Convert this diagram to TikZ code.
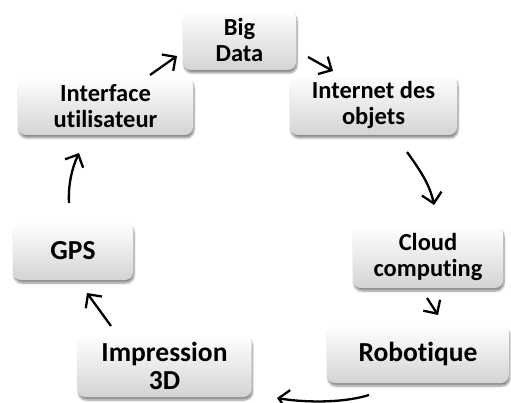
\documentclass[tikz,border=0pt]{standalone}
\usepackage{fontspec}
\setmainfont{Carlito}[RawFeature=-liga]
\usetikzlibrary{arrows.meta,shadows.blur}

\tikzset{
  box/.style={
    rounded corners=8pt, top color=white, bottom color=black!17,
    draw=none, align=center, inner sep=0pt,
    font=\bfseries\fontsize{24.5}{26}\selectfont,
    blur shadow={shadow xshift=1pt, shadow yshift=-3pt,
                 shadow blur steps=8, shadow opacity=45}
  },
  bigtext/.style={font=\bfseries\fontsize{27.5}{28}\selectfont},
  flow/.style={line width=2.3pt, -{Straight Barb[length=10pt,width=20pt,line width=2.3pt]}}
}

\begin{document}
\begin{tikzpicture}[x=1pt,y=-1pt]
  \useasboundingbox (0,0) rectangle (511,403);

  % the seven stages of the cycle
  \node[box, minimum width=113pt, minimum height=60pt] (big)  at (239.5,40)  {Big\\Data};
  \node[box, minimum width=167pt, minimum height=60pt] (iot)  at (373.5,105) {Internet des\\objets};
  \node[box, minimum width=150pt, minimum height=62pt] (cloud) at (428,257)  {Cloud\\computing};
  \node[box, bigtext, minimum width=182pt, minimum height=58pt] (robot) at (418,354) {Robotique};
  \node[box, bigtext, minimum width=174pt, minimum height=62pt] (print) at (164.5,366) {Impression\\3D};
  \node[box, bigtext, minimum width=120pt, minimum height=58pt] (gps) at (73,251) {GPS};
  \node[box, minimum width=175pt, minimum height=58pt] (ui) at (105.5,106) {Interface\\utilisateur};

  % arrow end points between the stages
  \coordinate (a1s) at (150,75);  \coordinate (a1e) at (177,56);
  \coordinate (a2s) at (308,57);  \coordinate (a2e) at (333,71);
  \coordinate (a3s) at (407,152); \coordinate (a3e) at (434,205);
  \coordinate (a4s) at (427,298); \coordinate (a4e) at (438,315);
  \coordinate (a5s) at (369,395); \coordinate (a5e) at (277,398);
  \coordinate (a6s) at (111,326); \coordinate (a6e) at (87,293);
  \coordinate (a7s) at (69,203);  \coordinate (a7e) at (79,153);

  % the cycle
  \draw[flow] (a1s) -- (a1e);
  \draw[flow] (a2s) -- (a2e);
  \draw[flow] (a3s) .. controls (420,170) and (430,185) .. (a3e);
  \draw[flow] (a4s) -- (a4e);
  \draw[flow] (a5s) .. controls (340,404) and (300,402) .. (a5e);
  \draw[flow] (a6s) -- (a6e);
  \draw[flow] (a7s) .. controls (68,185) and (72,168) .. (a7e);
\end{tikzpicture}
\end{document}
